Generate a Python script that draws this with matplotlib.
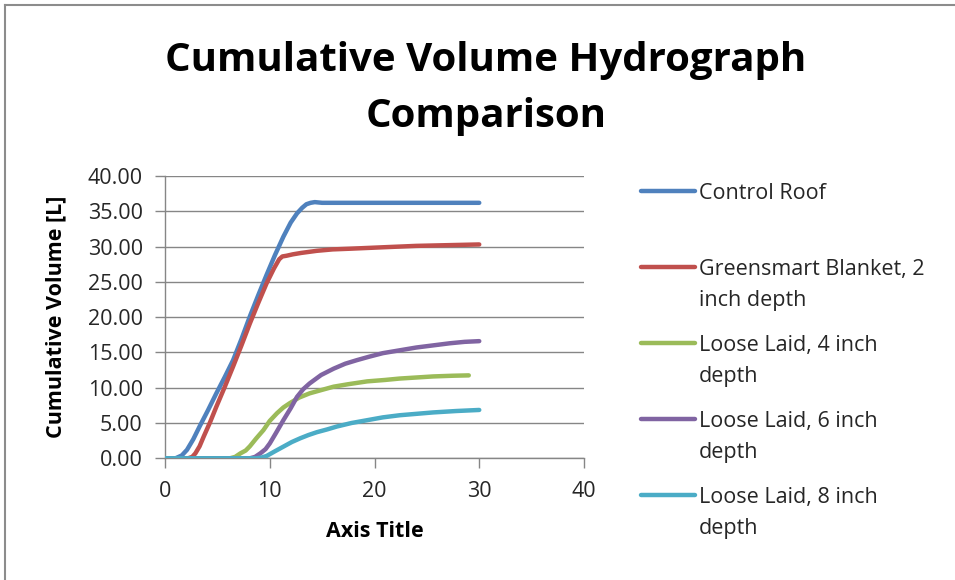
import matplotlib
matplotlib.use("Agg")
import matplotlib.pyplot as plt
from matplotlib.lines import Line2D

plt.rcParams['font.family'] = ['Open Sans', 'DejaVu Sans']

# time axis values and cumulative volumes [L]
control_x = [0, 1.0, 1.6, 2.1, 2.7, 3.3, 4.1, 4.9, 5.7, 6.5, 7.3, 8.1, 8.9, 9.7, 10.5,
             11.3, 12.0, 12.6, 13.1, 13.5, 13.9, 14.3, 15, 20, 25, 30]
control_y = [0, 0, 0.4, 1.2, 2.7, 4.5, 6.8, 9.2, 11.5, 13.9, 16.9, 20.1, 23.1, 26.0, 28.8,
             31.4, 33.4, 34.7, 35.5, 36.0, 36.2, 36.3, 36.2, 36.2, 36.2, 36.2]

green2_x = [0, 2.2, 2.6, 2.9, 3.3, 3.7, 4.3, 4.9, 5.7, 6.5, 7.3, 8.1, 8.9, 9.7, 10.4, 10.9,
            11.2, 11.6, 12.2, 13, 14.5, 16, 17.7, 20.8, 24, 27, 30]
green2_y = [0, 0, 0.2, 0.7, 1.7, 3.1, 5.1, 7.3, 10.1, 13.0, 16.0, 19.1, 22.0, 24.8, 26.9, 28.2,
            28.6, 28.7, 28.9, 29.1, 29.4, 29.6, 29.7, 29.9, 30.1, 30.2, 30.3]

loose4_x = [0, 6.2, 6.7, 7.2, 7.7, 8.1, 8.7, 9.4, 10.0, 10.7, 11.3, 11.9, 12.8, 13.8, 15.0,
            16.1, 17.5, 19.3, 21, 22.4, 24, 25.6, 27.5, 29.0]
loose4_y = [0, 0, 0.2, 0.7, 1.1, 1.7, 2.8, 4.0, 5.3, 6.4, 7.2, 7.8, 8.6, 9.2, 9.7,
            10.15, 10.5, 10.9, 11.1, 11.3, 11.45, 11.6, 11.7, 11.75]

loose6_x = [0, 8.1, 8.6, 9.1, 9.6, 10.0, 10.6, 11.3, 12.0, 12.6, 13.2, 13.8, 14.9, 16.1,
            17.2, 18.3, 19.5, 20.8, 22.4, 24, 25.6, 27.2, 28.6, 30]
loose6_y = [0, 0, 0.2, 0.7, 1.3, 2.1, 3.6, 5.4, 7.1, 8.7, 9.8, 10.6, 11.8, 12.7,
            13.4, 13.9, 14.4, 14.9, 15.3, 15.7, 16.0, 16.3, 16.5, 16.6]

loose8_x = [0, 8.7, 9.2, 9.7, 10.5, 11.3, 12.1, 12.9, 13.7, 14.5, 15.5, 16.4, 17.8, 19.3,
            20.8, 22.4, 24, 25.6, 27.8, 30]
loose8_y = [0, 0, 0.1, 0.33, 1.0, 1.65, 2.3, 2.83, 3.3, 3.7, 4.1, 4.5, 5.0, 5.4,
            5.8, 6.1, 6.3, 6.5, 6.7, 6.85]

labels = ["Control Roof", "Greensmart Blanket, 2\ninch depth", "Loose Laid, 4 inch\ndepth",
          "Loose Laid, 6 inch\ndepth", "Loose Laid, 8 inch\ndepth"]
colors = ['#4F81BD', '#C0504D', '#9BBB59', '#8064A2', '#4BACC6']

series = [(control_x, control_y), (green2_x, green2_y), (loose4_x, loose4_y),
          (loose6_x, loose6_y), (loose8_x, loose8_y)]

W, H = 955, 580
fig = plt.figure(figsize=(W / 100, H / 100), dpi=100)
ax = fig.add_axes([165 / W, 1 - 458.3 / H, (584 - 165) / W, (458.3 - 176) / H])

grid_col = '#868686'
for (xs, ys), c in zip(series, colors):
    ax.plot(xs, ys, color=c, lw=3.2, solid_capstyle='round', solid_joinstyle='round', zorder=3)

ax.set_xlim(0, 40)
ax.set_ylim(0, 40)
ax.set_xticks(range(0, 41, 10))
ax.set_yticks(range(0, 41, 5))
ax.set_yticklabels([f"{v:.2f}" for v in range(0, 41, 5)])
ax.yaxis.grid(True, color=grid_col, lw=1.0)
ax.set_axisbelow(True)
for s in ['top', 'right']:
    ax.spines[s].set_visible(False)
for s in ['left', 'bottom']:
    ax.spines[s].set_color(grid_col)
    ax.spines[s].set_linewidth(1.0)
ax.tick_params(axis='both', colors=grid_col, labelcolor='#262626', labelsize=15.5, length=7, width=1.0)
ax.tick_params(axis='y', pad=9)
ax.tick_params(axis='x', pad=9)

ax.set_xlabel("Axis Title", fontsize=15.5, fontweight='bold', labelpad=14)
ax.set_ylabel("Cumulative Volume [L]", fontsize=15.5, fontweight='bold', labelpad=15)

# title, two centred lines
fig.text(486 / W, 1 - 71 / H, "Cumulative Volume Hydrograph", ha='center', va='baseline',
         fontsize=29, fontweight='bold')
fig.text(486 / W, 1 - 127 / H, "Comparison", ha='center', va='baseline',
         fontsize=29, fontweight='bold')

# legend drawn by hand: handle on first line, two lines per entry
base = [199, 275, 351, 427, 503]
for lab, c, b in zip(labels, colors, base):
    yh = 1 - (b - 8.3) / H
    fig.add_artist(Line2D([641 / W, 695 / W], [yh, yh], color=c, lw=3.2,
                          solid_capstyle='round'))
    for i, line in enumerate(lab.split("\n")):
        fig.text(699 / W, 1 - (b + 31 * i) / H, line, ha='left', va='baseline',
                 fontsize=15.5, color='#262626')

# chart border (right and bottom edges fall outside the picture)
fig.add_artist(Line2D([5 / W, 1], [1 - 5 / H, 1 - 5 / H], color='#8c8c8c', lw=1.5))
fig.add_artist(Line2D([5 / W, 5 / W], [0, 1 - 5 / H], color='#8c8c8c', lw=1.5))

fig.savefig("out.png", dpi=100)
